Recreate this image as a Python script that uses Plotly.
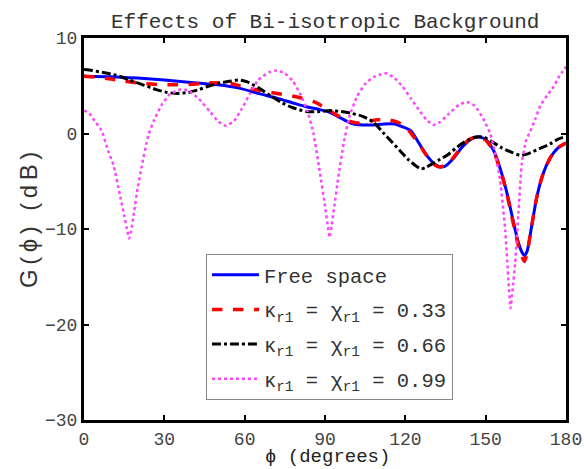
import plotly.graph_objects as go

# ---- data ----
free_x = [0, 10, 20, 30, 40, 50, 58, 65, 72, 78, 83, 88, 92, 96, 100, 104, 108, 112, 116, 119, 122,
          125.5, 128, 130.5, 133, 135, 138, 141, 144, 147, 150, 153, 156, 158, 160, 162, 163.5,
          164.5, 165.5, 167, 169, 171, 174, 177, 180]
free_y = [6.0, 5.95, 5.8, 5.6, 5.35, 5.1, 4.75, 4.2, 3.7, 3.2, 2.8, 2.5, 2.2, 1.6, 1.05, 0.9, 0.9,
          1.0, 1.0, 0.7, 0.3, -1.2, -2.3, -3.1, -3.5, -3.4, -2.6, -1.5, -0.7, -0.35, -0.6, -1.8,
          -4.2, -6.3, -8.8, -11.2, -12.4, -12.8, -12.3, -10.0, -6.8, -4.6, -2.6, -1.5, -1.0]

k33_x = [0, 5, 10, 15, 20, 30, 40, 46, 55, 62, 68, 74, 80, 86, 90, 94, 98, 102, 106, 110, 114,
         117, 120, 123, 126, 129, 131, 133, 135, 138, 141, 144, 147, 150, 153, 156, 158, 160, 162,
         163.5, 164.5, 165.5, 167, 169, 171, 174, 177, 180]
k33_y = [6.0, 5.9, 5.7, 5.5, 5.3, 5.1, 5.15, 5.3, 5.2, 4.7, 4.4, 4.1, 3.8, 3.3, 2.7, 2.0, 1.4, 1.1,
         1.3, 1.45, 1.4, 1.2, 0.7, -0.3, -1.5, -2.7, -3.3, -3.5, -3.3, -2.5, -1.4, -0.6, -0.35,
         -0.7, -1.9, -4.3, -6.4, -9.0, -11.5, -12.9, -13.4, -12.5, -10.0, -6.8, -4.6, -2.6, -1.5, -1.0]

k66_x = [0, 3, 7, 12, 17, 22, 27, 31, 35, 39, 43, 47, 51, 55, 58, 61, 65, 70, 74, 78, 83, 88, 92,
         96, 100, 104, 108, 112, 115, 118, 121, 124, 126, 128, 130.5, 133, 136, 139, 142, 146, 149,
         152, 156, 160, 163, 166, 170, 174, 177, 180]
k66_y = [6.7, 6.6, 6.4, 6.1, 5.6, 5.1, 4.6, 4.3, 4.2, 4.3, 4.6, 5.0, 5.3, 5.5, 5.6, 5.4, 4.8, 3.9,
         3.2, 2.7, 2.3, 2.3, 2.4, 2.3, 2.1, 1.8, 1.2, 0.0, -0.9, -1.8, -2.7, -3.4, -3.7, -3.5, -3.1,
         -2.7, -2.2, -1.5, -0.9, -0.4, -0.35, -0.8, -1.5, -2.0, -2.3, -2.1, -1.6, -1.1, -0.6, -0.3]

k99_x = [0, 2, 4, 6.5, 9, 11, 13.4, 15, 16.2, 16.9, 17.6, 18.6, 20, 21.5, 24, 26, 29, 32, 36, 39,
         43, 47, 50, 53, 56, 59, 62, 65, 69, 72, 75, 78, 81, 83.5, 85.7, 88, 90, 91.2, 91.7, 92.4,
         93.4, 95, 97, 99, 102, 105, 108, 111, 113, 116, 119, 122, 125, 128, 130.5, 133, 136, 140,
         143, 146, 149, 151.7, 153.5, 155.4, 157.3, 158.5, 159.3, 160, 161, 162.2, 163.5, 165,
         166.6, 168.5, 170.4, 173, 175.4, 177.5, 180]
k99_y = [2.4, 2.1, 1.3, 0.35, -1.8, -3.3, -6.4, -8.6, -10.2, -11.0, -10.2, -8.4, -5.8, -3.5, -0.2,
         1.3, 3.0, 4.1, 4.6, 4.5, 3.6, 2.3, 1.3, 0.8, 1.3, 2.6, 4.2, 5.6, 6.4, 6.6, 6.3, 5.5, 4.0,
         2.3, 0.0, -3.9, -7.6, -10.0, -10.9, -9.8, -7.8, -4.5, -1.0, 1.7, 3.9, 5.2, 5.9, 6.2, 6.3,
         5.8, 4.9, 3.7, 2.5, 1.4, 0.9, 1.2, 2.0, 3.0, 3.3, 2.9, 1.6, 0.0, -2.0, -4.9, -10.1, -15.4,
         -18.3, -16.5, -13.6, -8.4, -3.1, -0.8, 0.2, 1.5, 2.9, 4.0, 4.9, 6.0, 7.0]

x_ticks = [0, 30, 60, 90, 120, 150, 180]
y_ticks = [-30, -20, -10, 0, 10]

names = ["Free space",
         "κ<sub>r1</sub> = χ<sub>r1</sub> = 0.33",
         "κ<sub>r1</sub> = χ<sub>r1</sub> = 0.66",
         "κ<sub>r1</sub> = χ<sub>r1</sub> = 0.99"]

fig = go.Figure()
fig.add_trace(go.Scatter(x=free_x, y=free_y, mode="lines", name=names[0], legendgroup="a",
                         line=dict(color="#0000ff", width=3, shape="spline", smoothing=0.6)))
fig.add_trace(go.Scatter(x=k33_x, y=k33_y, mode="lines", name=names[1], legendgroup="b",
                         line=dict(color="#ff0000", width=3.5, dash="dash", shape="spline", smoothing=0.6)))
fig.add_trace(go.Scatter(x=k66_x, y=k66_y, mode="lines", name=names[2], legendgroup="c",
                         line=dict(color="#000000", width=3, dash="dashdot", shape="spline", smoothing=0.6)))
fig.add_trace(go.Scatter(x=k99_x, y=k99_y, mode="lines", name=names[3], legendgroup="d",
                         line=dict(color="#ff44ff", width=2.5, dash="dot", shape="spline", smoothing=0.4)))

mono = "Liberation Mono, Courier New, monospace"
sans = "Liberation Sans, DejaVu Sans, Arial, sans-serif"

axis_common = dict(showline=True, linecolor="black", linewidth=3, mirror="ticks",
                   ticks="inside", ticklen=5, tickwidth=2, tickcolor="black",
                   showgrid=False, zeroline=False, automargin=False,
                   tickfont=dict(family=mono, size=18, color="#444"))

fig.update_layout(
    width=584, height=469,
    margin=dict(l=84, r=18, t=38, b=49),
    paper_bgcolor="white", plot_bgcolor="white",
    title=dict(text="Effects of Bi-isotropic Background", x=0.5569, xref="container",
               xanchor="center", y=0.955, yanchor="middle",
               font=dict(family=mono, size=21, color="#333")),
    xaxis=dict(range=[0, 180], tickvals=x_ticks, **axis_common),
    yaxis=dict(range=[-30, 10], tickvals=y_ticks, **axis_common),
    legend=dict(x=0.253, y=0.4346, xanchor="left", yanchor="top",
                bgcolor="white", bordercolor="#888", borderwidth=1,
                font=dict(family=mono, size=20.5, color="#333"),
                itemwidth=47, tracegroupgap=5),
    showlegend=True,
    annotations=[
        dict(text='<span style="letter-spacing:4.5px">G(ϕ) (dB)</span>',
             xref="paper", yref="paper", x=-0.114, y=0.529,
             xanchor="center", yanchor="middle", textangle=-90, showarrow=False,
             font=dict(family=sans, size=24, color="#333")),
        dict(text="ϕ (degrees)",
             xref="paper", yref="paper", x=0.506, y=-0.1283,
             xanchor="center", yanchor="bottom", showarrow=False, borderpad=0,
             font=dict(family=mono, size=19, color="#222")),
    ],
)

fig.write_html("out.html")
